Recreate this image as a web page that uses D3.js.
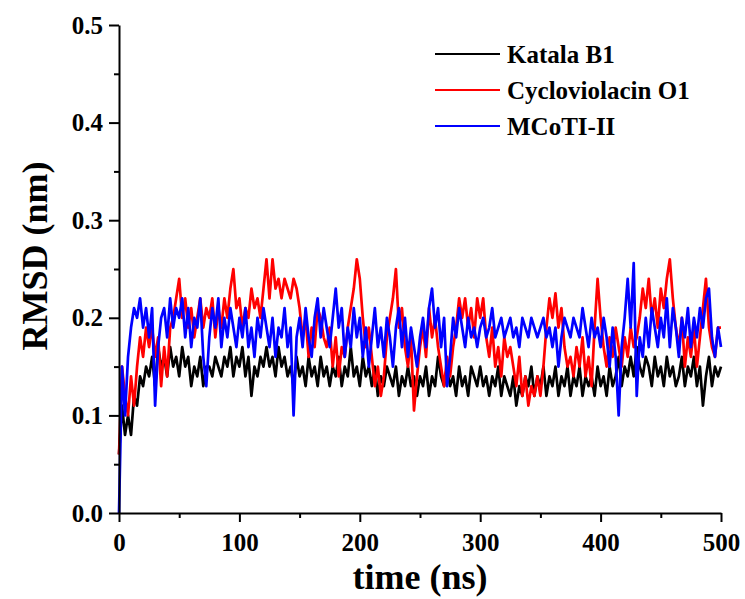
<!DOCTYPE html>
<html>
<head>
<meta charset="utf-8">
<script src="https://cdn.jsdelivr.net/npm/d3@7"></script>
<style>
  body { margin: 0; background: #fff; }
</style>
</head>
<body>
<div id="chart"></div>
<script>
// RMSD over time, sampled every 2.5 ns (0 - 500 ns)
const step = 2.5;

const katalaB1 = [
  0.06, 0.11, 0.08, 0.10, 0.08, 0.12, 0.11, 0.14, 0.13, 0.15,
  0.14, 0.16, 0.13, 0.17, 0.15, 0.16, 0.14, 0.17, 0.15, 0.16,
  0.14, 0.17, 0.15, 0.16, 0.13, 0.15, 0.14, 0.16, 0.13, 0.15,
  0.15, 0.14, 0.16, 0.15, 0.14, 0.16, 0.15, 0.17, 0.14, 0.16,
  0.15, 0.17, 0.14, 0.16, 0.12, 0.15, 0.14, 0.16, 0.15, 0.17,
  0.15, 0.16, 0.14, 0.17, 0.15, 0.16, 0.14, 0.15, 0.13, 0.16,
  0.14, 0.15, 0.13, 0.16, 0.14, 0.15, 0.13, 0.16, 0.14, 0.15,
  0.13, 0.15, 0.14, 0.16, 0.13, 0.15, 0.14, 0.17, 0.14, 0.15,
  0.13, 0.16, 0.14, 0.15, 0.13, 0.15, 0.12, 0.14, 0.13, 0.15,
  0.14, 0.13, 0.15, 0.12, 0.14, 0.13, 0.15, 0.13, 0.14, 0.12,
  0.14, 0.13, 0.15, 0.12, 0.14, 0.13, 0.16, 0.14, 0.13, 0.15,
  0.13, 0.14, 0.12, 0.15, 0.13, 0.14, 0.12, 0.15, 0.14, 0.13,
  0.15, 0.13, 0.14, 0.12, 0.14, 0.13, 0.15, 0.12, 0.14, 0.13,
  0.12, 0.14, 0.11, 0.13, 0.12, 0.14, 0.13, 0.15, 0.12, 0.14,
  0.13, 0.15, 0.12, 0.14, 0.13, 0.15, 0.12, 0.14, 0.13, 0.15,
  0.12, 0.14, 0.13, 0.15, 0.12, 0.14, 0.13, 0.14, 0.12, 0.15,
  0.13, 0.14, 0.12, 0.15, 0.13, 0.14, 0.16, 0.13, 0.15, 0.14,
  0.16, 0.14, 0.17, 0.15, 0.14, 0.16, 0.15, 0.13, 0.16, 0.14,
  0.15, 0.13, 0.16, 0.14, 0.15, 0.13, 0.14, 0.16, 0.13, 0.15,
  0.14, 0.16, 0.13, 0.15, 0.11, 0.14, 0.16, 0.13, 0.15, 0.14,
  0.15
];

const cycloviolacinO1 = [
  0.06, 0.15, 0.12, 0.10, 0.14, 0.11, 0.15, 0.18, 0.16, 0.19,
  0.17, 0.19, 0.16, 0.18, 0.13, 0.17, 0.14, 0.19, 0.20, 0.22,
  0.24, 0.20, 0.22, 0.19, 0.21, 0.18, 0.20, 0.22, 0.19, 0.21,
  0.20, 0.22, 0.18, 0.21, 0.19, 0.22, 0.20, 0.23, 0.25, 0.21,
  0.22, 0.19, 0.21, 0.20, 0.23, 0.21, 0.22, 0.20, 0.23, 0.26,
  0.22, 0.26, 0.23, 0.24, 0.22, 0.24, 0.23, 0.22, 0.24, 0.23,
  0.21, 0.18, 0.20, 0.16, 0.19, 0.17, 0.21, 0.20, 0.18, 0.17,
  0.19, 0.15, 0.18, 0.14, 0.17, 0.16, 0.19, 0.21, 0.23, 0.26,
  0.24, 0.20, 0.17, 0.19, 0.16, 0.13, 0.15, 0.12, 0.14, 0.18,
  0.20, 0.22, 0.25, 0.19, 0.21, 0.17, 0.15, 0.18, 0.105, 0.14,
  0.17, 0.19, 0.16, 0.21, 0.18, 0.20, 0.17, 0.15, 0.13, 0.16,
  0.14, 0.17, 0.19, 0.22, 0.20, 0.22, 0.19, 0.21, 0.18, 0.22,
  0.20, 0.22, 0.18, 0.16, 0.19, 0.15, 0.17, 0.14, 0.18, 0.16,
  0.17, 0.15, 0.13, 0.16, 0.12, 0.14, 0.11, 0.13, 0.12, 0.14,
  0.12, 0.15, 0.19, 0.22, 0.20, 0.225, 0.19, 0.21, 0.17, 0.15,
  0.16, 0.14, 0.17, 0.15, 0.18, 0.14, 0.16, 0.13, 0.19, 0.24,
  0.20, 0.17, 0.15, 0.18, 0.16, 0.19, 0.17, 0.15, 0.18, 0.16,
  0.19, 0.17, 0.18, 0.20, 0.23, 0.21, 0.24, 0.20, 0.22, 0.19,
  0.23, 0.21, 0.24, 0.26, 0.22, 0.19, 0.17, 0.20, 0.15, 0.18,
  0.16, 0.19, 0.15, 0.18, 0.21, 0.24, 0.19, 0.17, 0.16, 0.19,
  0.19
];

const mcotiII = [
  0.00, 0.15, 0.10, 0.16, 0.19, 0.21, 0.20, 0.22, 0.19, 0.21,
  0.18, 0.21, 0.11, 0.17, 0.20, 0.21, 0.18, 0.22, 0.19, 0.21,
  0.20, 0.22, 0.18, 0.21, 0.17, 0.20, 0.19, 0.22, 0.16, 0.13,
  0.18, 0.21, 0.19, 0.22, 0.17, 0.20, 0.18, 0.21, 0.19, 0.17,
  0.20, 0.18, 0.21, 0.17, 0.19, 0.16, 0.20, 0.18, 0.21, 0.19,
  0.17, 0.20, 0.16, 0.19, 0.18, 0.21, 0.17, 0.19, 0.10, 0.18,
  0.20, 0.17, 0.21, 0.18, 0.16, 0.20, 0.22, 0.18, 0.21, 0.19,
  0.17, 0.20, 0.23, 0.19, 0.21, 0.16, 0.19, 0.17, 0.21, 0.18,
  0.20, 0.16, 0.19, 0.15, 0.18, 0.21, 0.17, 0.19, 0.16, 0.20,
  0.18, 0.15, 0.19, 0.21, 0.17, 0.20, 0.16, 0.19, 0.17, 0.15,
  0.18, 0.20, 0.17, 0.21, 0.23, 0.19, 0.21, 0.17, 0.20, 0.13,
  0.16, 0.20, 0.18, 0.21, 0.19, 0.17, 0.20, 0.18, 0.19, 0.17,
  0.19, 0.20, 0.18, 0.19, 0.21, 0.18, 0.19, 0.20, 0.18, 0.19,
  0.20, 0.18, 0.19, 0.17, 0.20, 0.19, 0.18, 0.20, 0.19, 0.18,
  0.19, 0.20, 0.18, 0.19, 0.17, 0.19, 0.15, 0.18, 0.20, 0.19,
  0.18, 0.20, 0.19, 0.18, 0.21, 0.19, 0.17, 0.20, 0.18, 0.19,
  0.17, 0.20, 0.18, 0.15, 0.19, 0.16, 0.10, 0.17, 0.20, 0.24,
  0.19, 0.256, 0.12, 0.18, 0.16, 0.20, 0.17, 0.21, 0.19, 0.17,
  0.20, 0.18, 0.22, 0.17, 0.21, 0.19, 0.16, 0.20, 0.18, 0.21,
  0.17, 0.20, 0.18, 0.21, 0.19, 0.22, 0.23, 0.18, 0.16, 0.19,
  0.17
];

const seriesNames = ["Katala B1", "Cycloviolacin O1", "MCoTI-II"];
const seriesColors = ["#000000", "#ff0000", "#0000ff"];
const seriesValues = [katalaB1, cycloviolacinO1, mcotiII];

const xTicks = [0, 100, 200, 300, 400, 500];
const xMinor = [50, 150, 250, 350, 450];
const yTicks = [0, 0.1, 0.2, 0.3, 0.4, 0.5];
const yMinor = [0.05, 0.15, 0.25, 0.35, 0.45];

const width = 745, height = 599;
const plotLeft = 119, plotRight = 721, plotTop = 25, plotBottom = 513;
const font = "'Times New Roman', 'Liberation Serif'";

const svg = d3.select("#chart")
  .append("svg")
  .attr("width", width)
  .attr("height", height);

const x = d3.scaleLinear().domain([0, 500]).range([plotLeft, plotRight]);
const y = d3.scaleLinear().domain([0, 0.5]).range([plotBottom, plotTop]);

// series
const line = d3.line()
  .x((d, i) => x(i * step))
  .y(d => y(d));

seriesValues.forEach((vals, k) => {
  svg.append("path")
    .datum(vals)
    .attr("fill", "none")
    .attr("stroke", seriesColors[k])
    .attr("stroke-width", 2.7)
    .attr("stroke-linejoin", "round")
    .attr("d", line);
});

// axes
svg.append("g")
  .attr("transform", `translate(0,${plotBottom})`)
  .call(d3.axisBottom(x).tickValues(xTicks).tickSize(9).tickSizeOuter(0).tickPadding(11).tickFormat(d3.format("d")));

svg.append("g")
  .attr("transform", `translate(0,${plotBottom})`)
  .call(d3.axisBottom(x).tickValues(xMinor).tickSize(5).tickFormat(""))
  .select(".domain").remove();

svg.append("g")
  .attr("transform", `translate(${plotLeft},0)`)
  .call(d3.axisLeft(y).tickValues(yTicks).tickSize(10).tickSizeOuter(0).tickPadding(6).tickFormat(d3.format(".1f")));

svg.append("g")
  .attr("transform", `translate(${plotLeft},0)`)
  .call(d3.axisLeft(y).tickValues(yMinor).tickSize(5).tickFormat(""))
  .select(".domain").remove();

svg.selectAll(".domain, .tick line")
  .attr("stroke", "#000")
  .attr("stroke-width", 2);

svg.selectAll(".tick text")
  .attr("font-family", font)
  .attr("font-weight", "bold")
  .attr("font-size", 25);

// axis titles
svg.append("text")
  .attr("x", (plotLeft + plotRight) / 2)
  .attr("y", 589)
  .attr("text-anchor", "middle")
  .attr("font-family", font)
  .attr("font-weight", "bold")
  .attr("font-size", 36)
  .text("time (ns)");

svg.append("text")
  .attr("transform", "translate(47,256) rotate(-90)")
  .attr("text-anchor", "middle")
  .attr("font-family", font)
  .attr("font-weight", "bold")
  .attr("font-size", 36)
  .text("RMSD (nm)");

// legend
const legend = svg.append("g");
seriesNames.forEach((name, k) => {
  const ly = 54 + k * 36;
  legend.append("line")
    .attr("x1", 435).attr("x2", 500)
    .attr("y1", ly).attr("y2", ly)
    .attr("stroke", seriesColors[k])
    .attr("stroke-width", 2);
  legend.append("text")
    .attr("x", 507)
    .attr("y", ly + 9)
    .attr("font-family", font)
    .attr("font-weight", "bold")
    .attr("font-size", 25)
    .text(name);
});
</script>
</body>
</html>
